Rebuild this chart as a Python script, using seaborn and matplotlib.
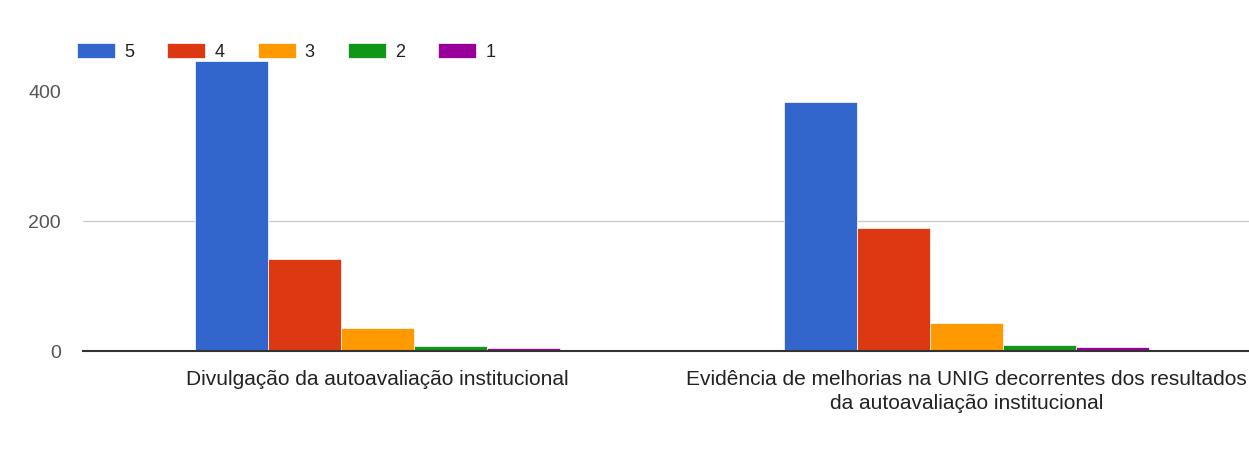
import matplotlib
matplotlib.use("Agg")
import matplotlib.pyplot as plt
import pandas as pd
import seaborn as sns

# data
categories = ["Divulgação da autoavaliação institucional",
              "Evidência de melhorias na UNIG decorrentes dos resultados\nda autoavaliação institucional"]
ratings = ["5", "4", "3", "2", "1"]
values_cat1 = [448, 142, 36, 8, 4]
values_cat2 = [385, 190, 43, 9, 6]
colors = ["#3366CC", "#DC3912", "#FF9900", "#109618", "#990099"]

df = pd.DataFrame({
    "categoria": [categories[0]] * 5 + [categories[1]] * 5,
    "nota": ratings * 2,
    "respostas": values_cat1 + values_cat2,
})

sns.set_style("white")
plt.rcParams["font.family"] = ["Liberation Sans", "DejaVu Sans"]

fig = plt.figure(figsize=(12.49, 4.69), dpi=100)
ax = fig.add_axes([83 / 1249, (469 - 351) / 469, 1 - 83 / 1249, 311 / 469])

sns.barplot(data=df, x="categoria", y="respostas", hue="nota", hue_order=ratings,
            palette=colors, width=0.62, edgecolor="white", linewidth=0.5,
            saturation=1, ax=ax, legend=True)

ax.set_xlim(-0.5, -0.5 + (1249 - 83) / 589)
ax.set_ylim(0, 480)
ax.set_yticks([0, 200, 400])
ax.yaxis.grid(True, color="#cccccc", linewidth=1)
ax.get_ygridlines()[2].set_visible(False)
ax.get_ygridlines()[0].set_visible(False)
ax.set_axisbelow(True)
ax.set_xlabel("")
ax.set_ylabel("")
for s in ["top", "right", "left"]:
    ax.spines[s].set_visible(False)
ax.spines["bottom"].set_color("#333333")
ax.spines["bottom"].set_linewidth(1.5)
ax.tick_params(axis="x", length=0, pad=14, labelsize=15, labelcolor="#222222")
ax.tick_params(axis="y", length=0, pad=16, labelsize=14, labelcolor="#555555")
for t in ax.get_xticklabels():
    t.set_linespacing(1.3)

handles, labels = ax.get_legend_handles_labels()
ax.get_legend().remove()
fig.legend(handles, labels, loc="center left", bbox_to_anchor=(77 / 1249, (469 - 52) / 469),
           ncol=5, frameon=False, fontsize=13, handlelength=2.1, handleheight=0.9,
           handletextpad=0.5, columnspacing=1.85, borderpad=0, borderaxespad=0,
           labelcolor="#222222")

fig.savefig("out.png", dpi=100)
